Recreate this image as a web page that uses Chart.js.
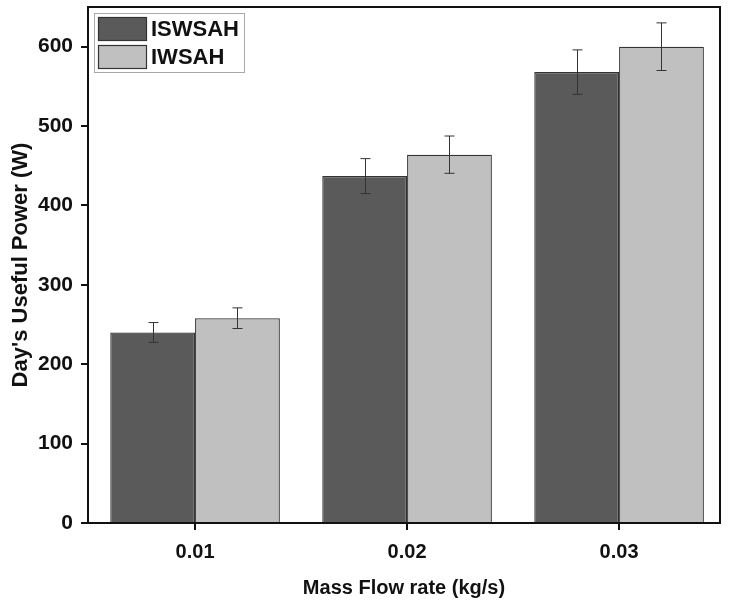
<!DOCTYPE html>
<html>
<head>
<meta charset="utf-8">
<script src="https://cdn.jsdelivr.net/npm/chart.js@4.4.1/dist/chart.umd.min.js"></script>
<style>
  html, body { margin: 0; padding: 0; background: #fff; }
</style>
</head>
<body>
<canvas id="bar-chart" width="734" height="609"></canvas>
<script>
// values
var flowRates = [0.01, 0.02, 0.03];
var iswsahPower = [240, 437, 568];
var iswsahErr = [12.5, 22, 28];
var iwsahPower = [258, 464, 600];
var iwsahErr = [13, 23.5, 30];
var yTicks = [0, 100, 200, 300, 400, 500, 600];

var font = "'Liberation Sans', Arial, sans-serif";

function points(vals) {
  return flowRates.map(function(x, i) { return { x: x, y: vals[i] }; });
}

// error bars drawn through the y scale
var errorBars = {
  id: 'errorBars',
  afterDatasetsDraw: function(chart) {
    var ctx = chart.ctx;
    var y = chart.scales.y;
    ctx.save();
    ctx.strokeStyle = "#333";
    ctx.lineWidth = 1;
    chart.data.datasets.forEach(function(ds, i) {
      var meta = chart.getDatasetMeta(i);
      meta.data.forEach(function(bar, j) {
        var v = ds.data[j].y, e = ds.errors[j];
        var x = Math.round(bar.x) + 0.5;
        var top = y.getPixelForValue(v + e);
        var bot = y.getPixelForValue(v - e);
        ctx.beginPath();
        ctx.moveTo(x, top); ctx.lineTo(x, bot);
        ctx.moveTo(x - 5, top); ctx.lineTo(x + 5, top);
        ctx.moveTo(x - 5, bot); ctx.lineTo(x + 5, bot);
        ctx.stroke();
      });
    });
    ctx.restore();
  }
};

// frame around the plot + legend inside it
var frameAndLegend = {
  id: 'frameAndLegend',
  afterDraw: function(chart) {
    var ctx = chart.ctx;
    var a = chart.chartArea;
    ctx.save();
    ctx.strokeStyle = "#111";
    ctx.lineWidth = 2;
    ctx.strokeRect(a.left, a.top, a.right - a.left, a.bottom - a.top);

    var lx = a.left + 6, ly = a.top + 6;
    ctx.lineWidth = 1;
    ctx.strokeStyle = "#aaa";
    ctx.strokeRect(lx + 0.5, ly + 0.5, 150, 59);
    chart.data.datasets.forEach(function(ds, i) {
      var sy = ly + 4 + i * 28;
      ctx.fillStyle = ds.backgroundColor;
      ctx.fillRect(lx + 4, sy, 49, 24);
      ctx.strokeStyle = "#333";
      ctx.lineWidth = 1.2;
      ctx.strokeRect(lx + 4.5, sy + 0.5, 48, 23);
      ctx.fillStyle = "#111";
      ctx.font = "bold 22px " + font;
      ctx.textBaseline = "middle";
      ctx.fillText(ds.label, lx + 57, sy + 13);
    });
    ctx.restore();
  }
};

var chart = new Chart(document.getElementById("bar-chart"), {
  type: 'bar',
  data: {
    datasets: [{
        label: "ISWSAH",
        data: points(iswsahPower),
        errors: iswsahErr,
        backgroundColor: "#5a5a5a",
        borderColor: "#333",
        borderWidth: 1.3
      }, {
        label: "IWSAH",
        data: points(iwsahPower),
        errors: iwsahErr,
        backgroundColor: "#c0c0c0",
        borderColor: "#333",
        borderWidth: 1.3
      }
    ]
  },
  options: {
    responsive: false,
    animation: false,
    layout: { padding: { top: 7, right: 14, left: 0, bottom: 0 } },
    datasets: { bar: { categoryPercentage: 0.8, barPercentage: 1.0 } },
    plugins: {
      legend: { display: false },
      tooltip: { enabled: false }
    },
    scales: {
      x: {
        type: 'linear',
        offset: false,
        min: 0.00495,
        max: 0.03476,
        afterBuildTicks: function(s) {
          s.ticks = flowRates.map(function(v) { return { value: v }; });
        },
        grid: { offset: false, drawOnChartArea: false, drawTicks: true, tickLength: 7, color: "#111", lineWidth: 2 },
        border: { color: "#111", width: 2 },
        ticks: {
          color: "#111", padding: 10,
          font: { family: font, size: 20, weight: 'bold' },
          callback: function(v) { return v.toFixed(2); }
        },
        title: {
          display: true,
          text: "Mass Flow rate (kg/s)",
          color: "#111",
          padding: { top: 4, bottom: 9 },
          font: { family: font, size: 20, weight: 'bold' }
        },
        afterFit: function(s) { s.height = 86; s.paddingLeft = 0; s.paddingRight = 0; }
      },
      y: {
        min: 0,
        max: 650,
        afterBuildTicks: function(s) {
          s.ticks = yTicks.map(function(v) { return { value: v }; });
        },
        grid: { drawOnChartArea: false, drawTicks: true, tickLength: 7, color: "#111", lineWidth: 2 },
        border: { color: "#111", width: 2 },
        ticks: { color: "#111", padding: 8, font: { family: font, size: 21, weight: 'bold' } },
        title: {
          display: true,
          text: "Day's Useful Power (W)",
          color: "#111",
          padding: { top: 8, bottom: 0 },
          font: { family: font, size: 22, weight: 'bold' }
        },
        afterFit: function(s) { s.width = 88; s.paddingTop = 0; s.paddingBottom = 0; }
      }
    }
  },
  plugins: [errorBars, frameAndLegend]
});
</script>
</body>
</html>
